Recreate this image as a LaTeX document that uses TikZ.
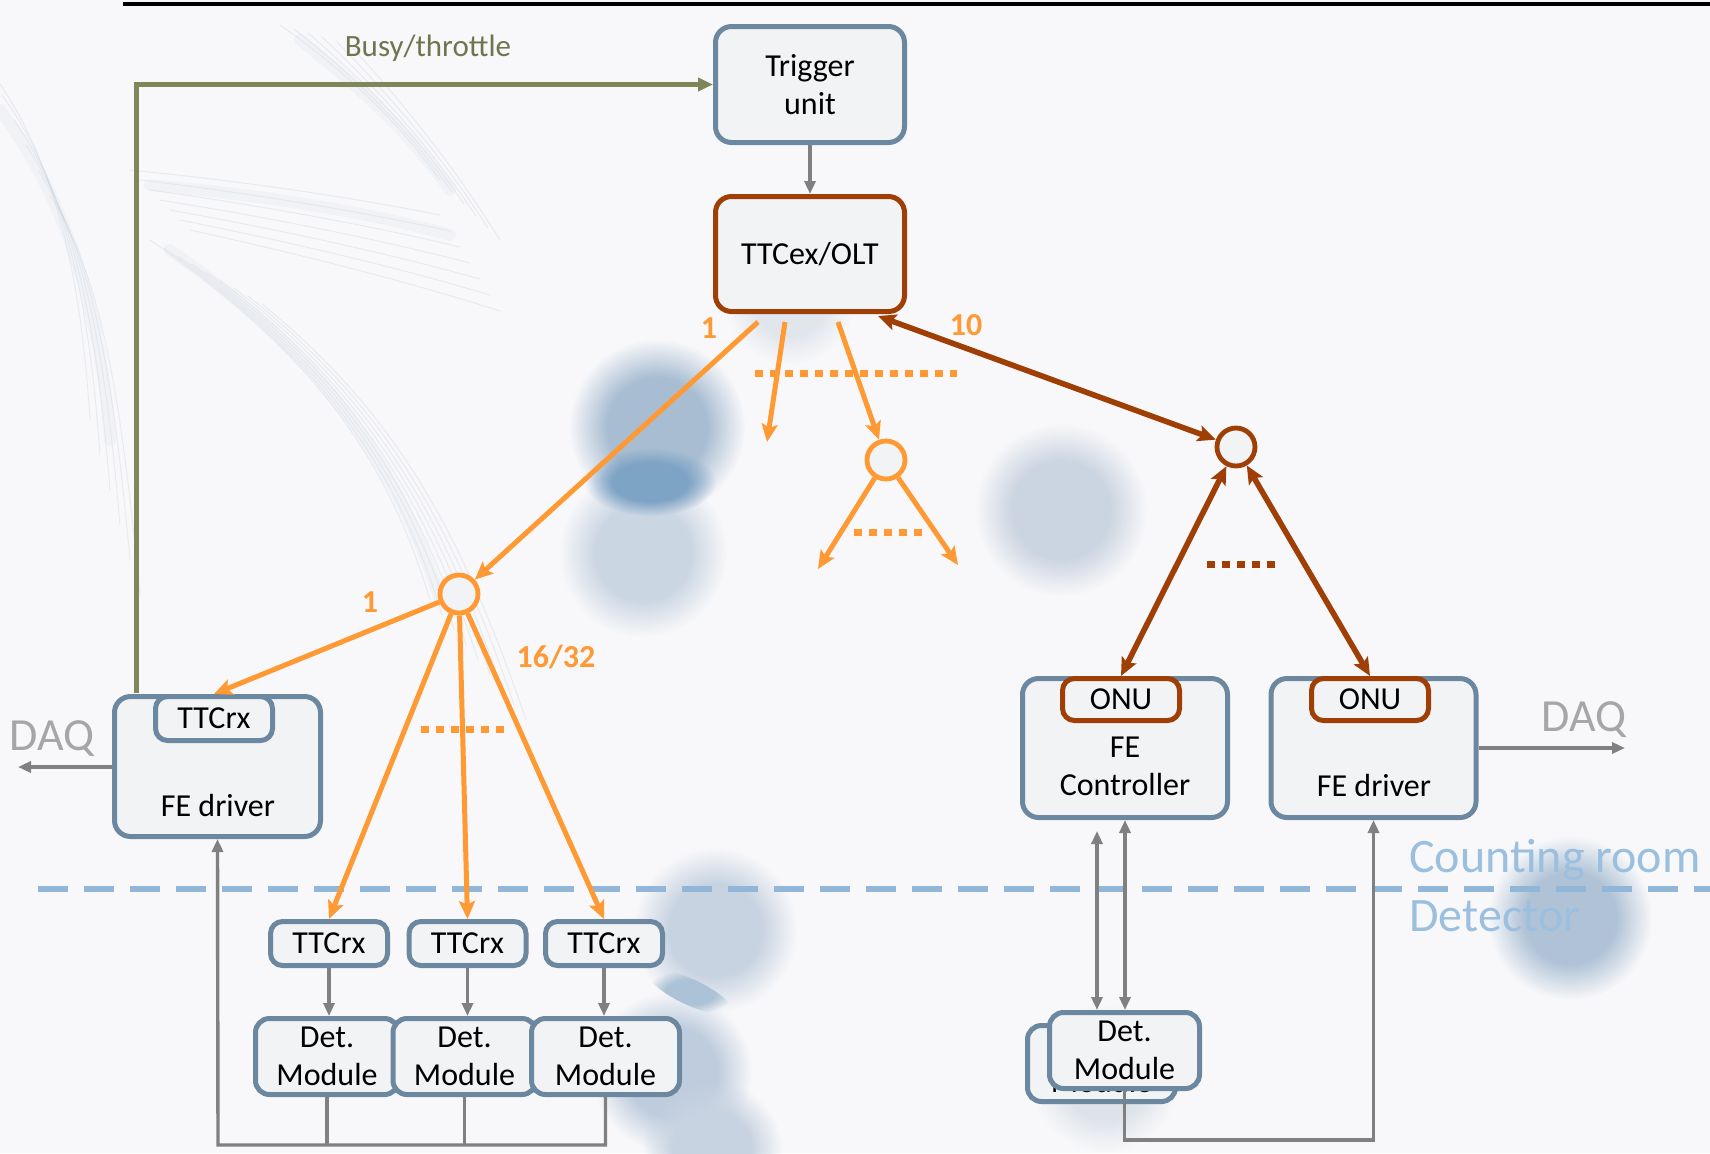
\documentclass[tikz,border=0pt]{standalone}
\usepackage{fontspec}
\setmainfont{Carlito}
\usetikzlibrary{arrows.meta,fadings,calc}

\definecolor{bgc}{HTML}{F8F8FA}
\definecolor{boxline}{HTML}{6C87A0}
\definecolor{boxfill}{HTML}{F1F3F5}
\definecolor{brownc}{HTML}{9F3F06}
\definecolor{orangec}{HTML}{FF9933}
\definecolor{grayc}{HTML}{808080}
\definecolor{olivec}{HTML}{7F8659}
\definecolor{olivetext}{HTML}{6E7650}
\definecolor{sepc}{HTML}{92B6D8}
\definecolor{roomc}{HTML}{9BBFDF}
\definecolor{daqc}{HTML}{A6A6A6}
\definecolor{streakc}{HTML}{9FAEC0}
\definecolor{hazec}{HTML}{DCE3EB}

% soft round spot: opaque core, wide blurred rim
\pgfdeclareradialshading{softspotshade}{\pgfpointorigin}{%
  color(0bp)=(pgftransparent!0); color(14bp)=(pgftransparent!0);
  color(25bp)=(pgftransparent!100); color(50bp)=(pgftransparent!100)}
\pgfdeclarefading{softspot}{\pgfuseshading{softspotshade}}

\begin{document}
\begin{tikzpicture}[x=0.5pt,y=-0.5pt,
  txt/.style={font=\fontsize{16}{19}\selectfont, align=center, inner sep=0pt},
  box/.style={txt, draw=boxline, line width=2.5pt, fill=boxfill, rounded corners=8pt},
  onubox/.style={box, draw=brownc, rounded corners=6pt},
  smallbox/.style={box, rounded corners=6pt, minimum width=58.5pt, minimum height=22pt},
  detbox/.style={box, rounded corners=7pt, minimum width=71.5pt, minimum height=38pt},
  splitter/.style={circle, line width=2.4pt, fill=boxfill, minimum size=19pt, inner sep=0pt},
  oarrow/.style={draw=orangec, line width=2.5pt, -{Stealth[length=9pt,width=8pt,inset=1.8pt]}},
  barrow/.style={draw=brownc, line width=2.8pt, {Stealth[length=9pt,width=8pt,inset=1.8pt]}-{Stealth[length=9pt,width=8pt,inset=1.8pt]}},
  garrow/.style={draw=grayc, line width=1.7pt, -{Triangle[length=6.5pt,width=5.5pt]}},
  gline/.style={draw=grayc, line width=1.7pt},
  gdouble/.style={draw=grayc, line width=1.7pt, {Triangle[length=6.5pt,width=5.5pt]}-{Triangle[length=6.5pt,width=5.5pt]}},
  dotrow/.style={line width=3.5pt, dash pattern=on 4pt off 3.5pt},
  numlbl/.style={font=\bfseries\fontsize{16}{19}\selectfont, text=orangec, inner sep=0pt},
  spot/.style={path fading=softspot},
  streak/.style={draw=streakc, line width=0.5pt, opacity=0.18, line cap=round},
  haze/.style={draw=hazec, line width=6pt, opacity=0.25, line cap=round}
]
\useasboundingbox (0,0) rectangle (1710,1153);

% page background
\fill[bgc] (0,0) rectangle (1710,1153);

% faint feather wisps in the upper left
\begin{scope}
% arcs along the left edge
\foreach \i in {0,...,5}{
  \draw[streak] ({-10+12*\i},{70+25*\i}) .. controls ({50+10*\i},{150+25*\i}) and ({80+8*\i},{260+25*\i}) .. ({90+10*\i},{420+35*\i});
}
% wisps running to the right
\foreach \i in {0,...,6}{
  \draw[streak] ({130+10*\i},{170+10*\i}) .. controls ({230+10*\i},{180+12*\i}) and ({340+10*\i},{195+14*\i}) .. ({440+10*\i},{215+16*\i});
}
% wisps running down and to the right
\foreach \i in {0,...,8}{
  \draw[streak] ({150+14*\i},{240+8*\i}) .. controls ({280+14*\i},{330+10*\i}) and ({380+10*\i},{430+12*\i}) .. ({430+12*\i},{600+15*\i});
}
% wisps near the top
\foreach \i in {0,...,5}{
  \draw[streak] ({280+14*\i},{25+4*\i}) .. controls ({330+14*\i},{60+8*\i}) and ({390+12*\i},{110+10*\i}) .. ({440+12*\i},{180+12*\i});
}
\draw[haze] (150,185) .. controls (260,195) and (360,210) .. (450,235);
\draw[haze] (170,250) .. controls (300,340) and (390,440) .. (440,600);
\draw[haze] (0,110) .. controls (60,190) and (100,300) .. (110,440);
\draw[haze] (300,40) .. controls (350,80) and (400,120) .. (450,190);
\end{scope}

% blurred blue spots
\fill[spot, color={rgb,255:red,168;green,189;blue,210}] (657,427) circle (88);
\fill[spot, color={rgb,255:red,203;green,214;blue,227}] (643,553) circle (84);
\fill[spot, color={rgb,255:red,125;green,163;blue,197}] (650,482) ellipse (66 and 34);
\fill[spot, color={rgb,255:red,203;green,212;blue,225}] (1061,510) circle (86);
\fill[spot, color={rgb,255:red,176;green,195;blue,214}] (1570,918) circle (82);
\fill[spot, color={rgb,255:red,200;green,211;blue,225}] (715,930) circle (82);
\fill[spot, color={rgb,255:red,190;green,204;blue,221}] (672,1072) circle (80);
\fill[spot, color={rgb,255:red,172;green,195;blue,215}, rotate around={-25:(690,992)}] (690,992) ellipse (46 and 13);
\fill[spot, color={rgb,255:red,200;green,211;blue,225}] (712,1150) circle (70);
\fill[spot, color={rgb,255:red,222;green,227;blue,234}] (1105,1078) circle (74);
\fill[spot, color={rgb,255:red,225;green,230;blue,237}] (790,300) circle (64);

% rule along the top edge
\draw[black, line width=2pt] (123,3.5) -- (1710,3.5);

% counting room / detector boundary
\draw[sepc, line width=2.6pt, dash pattern=on 15pt off 8pt] (38,889) -- (1710,889);
\node[txt, anchor=west, text=roomc, font=\fontsize{24}{28}\selectfont] (room) at (1409,860) {Counting room};
\node[txt, anchor=west, text=roomc, font=\fontsize{24}{28}\selectfont] (det) at (1409,916) {Detector};

% trigger and optical line terminal
\node[box, minimum width=94.5pt, minimum height=58pt] (trig) at (810,84.5) {Trigger\\unit};
\node[box, draw=brownc, minimum width=94.5pt, minimum height=57.5pt] (ttc) at (810,254) {TTCex/OLT};
\draw[garrow] (trig.south) -- (ttc.north);

% front-end driver on the left
\node[box, minimum width=103pt, minimum height=70pt] (fedl) at (217.5,766.5) {};
\node[smallbox] (rxl) at (214,718.5) {TTCrx};
\node[txt] (fedltxt) at (218,805) {FE driver};

% detector-side receivers and modules
\node[smallbox] (rxa) at (329,943.5) {TTCrx};
\node[smallbox] (rxb) at (467.5,943.5) {TTCrx};
\node[smallbox] (rxc) at (604,943.5) {TTCrx};
\node[detbox] (dma) at (327,1056.5) {Det.\\Module};
\node[detbox] (dmb) at (464.5,1056.5) {Det.\\Module};
\node[detbox, minimum width=74pt] (dmc) at (605.5,1056.5) {Det.\\Module};
\draw[garrow] (rxa.south) -- (rxa.south |- dma.north);
\draw[garrow] (rxb.south) -- (rxb.south |- dmb.north);
\draw[garrow] (rxc.south) -- (rxc.south |- dmc.north);

% read-out bus back to the FE driver
\coordinate (busl) at (218,1145);
\draw[gline] (dma.south) -- (dma.south |- busl);
\draw[gline] (dmb.south) -- (dmb.south |- busl);
\draw[garrow] (dmc.south) |- (busl) -- (fedl.south);

% front-end controller and driver on the right
\node[box, minimum width=102.5pt, minimum height=69.5pt] (fec) at (1125,748) {};
\node[onubox, minimum width=58.5pt, minimum height=21pt] (onua) at (1121,699.5) {ONU};
\node[txt] (fectxt) at (1125,766.5) {FE\\Controller};
\node[box, minimum width=102.5pt, minimum height=69.5pt] (fedr) at (1373.5,748) {};
\node[onubox, minimum width=58.5pt, minimum height=21pt] (onub) at (1370,699.5) {ONU};
\node[txt] (fedrtxt) at (1374,785) {FE driver};

% stacked detector modules on the right (the rear one mostly covered)
\node[detbox, minimum width=74pt] (dmback) at (1101.5,1063.5) {};
\node[txt] (dmbacktxt) at (1101.5,1063) {Det.\\Module};
\node[detbox, minimum width=75pt] (dmr) at (1124.5,1050.5) {Det.\\Module};

\coordinate (ctla) at (1097,831);
\coordinate (ctlb) at (1097,1010);
\draw[gdouble] (ctla) -- (ctlb);
\draw[gdouble] (fec.south) -- (fec.south |- dmr.north);
\coordinate (busr) at (1373.5,1140);
\draw[garrow] (dmr.south) |- (busr) -- (fedr.south);

% DAQ outputs
\coordinate (daql) at (18,767);
\draw[garrow] (fedl.west |- daql) -- (daql);
\node[txt, text=daqc, font=\fontsize{23}{27}\selectfont] (daqltxt) at (52,739) {DAQ};
\coordinate (daqr) at (1625,748);
\draw[garrow] (fedr.east) -- (daqr);
\node[txt, text=daqc, font=\fontsize{23}{27}\selectfont] (daqrtxt) at (1584,720) {DAQ};

% busy / throttle feedback
\coordinate (busy) at (136,693);
\draw[draw=olivec, line width=2.5pt, -{Triangle[length=7.5pt,width=6.5pt]}] (busy) |- (trig.west);
\node[txt, text=olivetext, font=\fontsize{15.5}{18}\selectfont] (busytxt) at (428,48) {Busy/throttle};

% passive optical splitters
\node[splitter, draw=orangec] (spl) at (459,594) {};
\node[splitter, draw=orangec] (spm) at (886,460) {};
\node[splitter, draw=brownc] (spr) at (1236,447) {};

% TTC broadcast tree
\coordinate (oa) at (758,322);
\coordinate (ob) at (785,322);
\coordinate (obe) at (767,442);
\coordinate (oc) at (838,322);
\draw[oarrow] (oa) -- (spl);
\draw[oarrow] (ob) -- (obe);
\draw[oarrow] (oc) -- (spm);
\draw[orangec, dotrow] (755,373) -- (957,373);

\coordinate (ma) at (818,569);
\coordinate (mb) at (958,565);
\draw[oarrow] (spm) -- (ma);
\draw[oarrow] (spm) -- (mb);
\draw[orangec, dotrow] (854,532) -- (927,532);

\draw[oarrow] (spl) -- (rxl.north);
\draw[oarrow] (spl) -- (rxa.north);
\draw[oarrow] (spl) -- (rxb.north);
\draw[oarrow] (spl) -- (rxc.north);
\draw[orangec, dotrow] (421,729) -- (509,729);

\node[numlbl] (n1) at (709,328) {1};
\node[numlbl] (n2) at (370,602) {1};
\node[numlbl] (n3) at (556,657) {16/32};
\node[numlbl] (n4) at (966,325) {10};

% bidirectional optical network
\coordinate (olt) at (878,316);
\draw[barrow] (olt) -- (spr);
\draw[barrow] (spr) -- (onua.north);
\draw[barrow] (spr) -- (onub.north);
\draw[brownc, dotrow] (1207,564) -- (1278,564);

\end{tikzpicture}
\end{document}
